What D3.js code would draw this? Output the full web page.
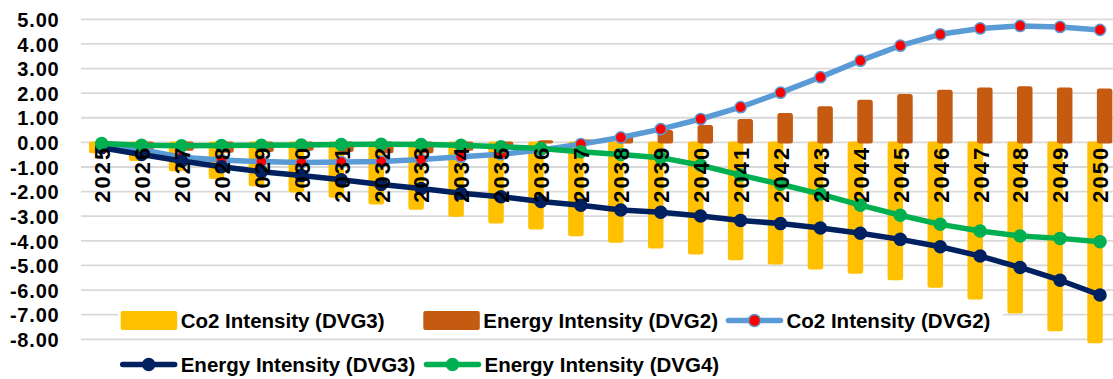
<!DOCTYPE html>
<html>
<head>
<meta charset="utf-8">
<script src="https://cdn.jsdelivr.net/npm/d3@7"></script>
<style>
  html, body { margin: 0; padding: 0; background: #fff; }
  svg { display: block; font-family: "Liberation Sans", Arial, sans-serif; font-weight: bold; }
</style>
</head>
<body>
<svg id="chart" width="1113" height="379"></svg>
<script>
// Years on the category axis
const years = ["2025","2026","2027","2028","2029","2030","2031","2032","2033","2034",
  "2035","2036","2037","2038","2039","2040","2041","2042","2043","2044",
  "2045","2046","2047","2048","2049","2050"];

// Co2 Intensity (DVG3) – bars
const co2DVG3 = [-0.40,-0.72,-1.13,-1.45,-1.74,-2.00,-2.21,-2.48,-2.70,-2.98,
  -3.25,-3.50,-3.77,-4.04,-4.27,-4.51,-4.75,-4.92,-5.12,-5.30,
  -5.56,-5.87,-6.34,-6.91,-7.63,-8.12];

// Energy Intensity (DVG2) – bars
const energyDVG2 = [-0.05,-0.25,-0.30,-0.38,-0.35,-0.30,-0.35,-0.40,-0.40,-0.30,
  -0.10,0.05,0.08,0.25,0.46,0.67,0.91,1.15,1.43,1.69,
  1.92,2.10,2.19,2.24,2.19,2.15];

// Co2 Intensity (DVG2) – line
const co2DVG2 = [-0.05,-0.30,-0.60,-0.72,-0.78,-0.82,-0.80,-0.78,-0.70,-0.58,
  -0.48,-0.31,-0.07,0.20,0.54,0.95,1.43,2.02,2.65,3.32,
  3.93,4.39,4.63,4.73,4.69,4.57];

// Energy Intensity (DVG3) – line
const energyDVG3 = [-0.22,-0.49,-0.76,-0.99,-1.19,-1.35,-1.52,-1.71,-1.87,-2.07,
  -2.21,-2.40,-2.55,-2.75,-2.84,-2.99,-3.17,-3.30,-3.48,-3.69,
  -3.94,-4.24,-4.62,-5.08,-5.60,-6.20];

// Energy Intensity (DVG4) – line
const energyDVG4 = [-0.05,-0.12,-0.14,-0.13,-0.12,-0.11,-0.09,-0.08,-0.09,-0.12,
  -0.18,-0.25,-0.38,-0.49,-0.62,-0.93,-1.33,-1.70,-2.10,-2.55,
  -2.96,-3.33,-3.60,-3.80,-3.90,-4.04];

// Value-axis ticks
const yTicks = [5,4,3,2,1,0,-1,-2,-3,-4,-5,-6,-7,-8];

const svg = d3.select("#chart");

const x = d3.scaleBand().domain(years).range([81.7, 1120]).padding(0);
const y = d3.scaleLinear().domain([-8, 5]).range([339.3, 19.3]);
const y0 = y(0);

// Horizontal gridlines
svg.append("g")
  .selectAll("line")
  .data(yTicks)
  .join("line")
  .attr("x1", 81).attr("x2", 1113)
  .attr("y1", d => y(d)).attr("y2", d => y(d))
  .attr("stroke", "#D9D9D9")
  .attr("stroke-width", 1.8);

// Value axis labels
const yAxis = svg.append("g")
  .attr("transform", "translate(59.5,0)")
  .call(d3.axisLeft(y).tickValues(yTicks).tickSize(0).tickPadding(0)
    .tickFormat(d => d.toFixed(2)));
yAxis.select(".domain").remove();
yAxis.selectAll("text")
  .attr("fill", "#000")
  .attr("font-size", 20)
  .attr("font-family", "Liberation Sans, Arial, sans-serif")
  .attr("font-weight", "bold")
  .attr("letter-spacing", "0.8px")
  .attr("dy", "0.36em");

// Bars
const barW = 13.5;
const bars = [
  { values: co2DVG3, color: "#FFC000", offset: -5 },
  { values: energyDVG2, color: "#C55A11", offset: 4.6 }
];
bars.forEach(s => {
  svg.append("g")
    .selectAll("rect")
    .data(years.map((yr, i) => ({ yr, v: s.values[i] })))
    .join("rect")
    .attr("x", d => x(d.yr) + x.bandwidth() / 2 + s.offset - barW / 2)
    .attr("width", barW)
    .attr("y", d => Math.min(y(d.v), y0))
    .attr("height", d => Math.abs(y(d.v) - y0))
    .attr("fill", s.color)
    .attr("stroke", s.color)
    .attr("stroke-width", 2)
    .attr("stroke-linejoin", "round")
    .attr("rx", 1.5);
});

// Lines
const lines = [
  { values: co2DVG2, color: "#5B9BD5", width: 5.5, marker: "#FF0000", markerStroke: "#5B9BD5", r: 5.6 },
  { values: energyDVG3, color: "#002060", width: 5.5, marker: "#002060", markerStroke: "#002060", r: 6 },
  { values: energyDVG4, color: "#00B050", width: 5.5, marker: "#00B050", markerStroke: "#00B050", r: 6 }
];
const cx = yr => x(yr) + x.bandwidth() / 2;
lines.forEach(s => {
  const pts = years.map((yr, i) => ({ yr, v: s.values[i] }));
  svg.append("path")
    .datum(pts)
    .attr("fill", "none")
    .attr("stroke", s.color)
    .attr("stroke-width", s.width)
    .attr("stroke-linejoin", "round")
    .attr("stroke-linecap", "round")
    .attr("d", d3.line().x(d => cx(d.yr)).y(d => y(d.v)));
  svg.append("g")
    .selectAll("circle")
    .data(pts)
    .join("circle")
    .attr("cx", d => cx(d.yr))
    .attr("cy", d => y(d.v))
    .attr("r", s.r)
    .attr("fill", s.marker)
    .attr("stroke", s.markerStroke)
    .attr("stroke-width", 1.5);
});

// Category axis labels, rotated and hanging just below zero
const xAxis = svg.append("g")
  .attr("transform", `translate(0,${y0})`)
  .call(d3.axisBottom(x).tickSize(0));
xAxis.select(".domain").remove();
const xls = 2;
xAxis.selectAll("text")
  .attr("fill", "#000")
  .attr("font-size", 22)
  .attr("font-family", "Liberation Sans, Arial, sans-serif")
  .attr("font-weight", "bold")
  .attr("letter-spacing", xls + "px")
  .attr("text-anchor", "end")
  .attr("transform", "rotate(-90)")
  .attr("x", -(147.8 - y0) + xls)
  .attr("y", 8.3)
  .attr("dy", 0);

// Legend
const legendG = svg.append("g");
legendG.append("rect")
  .attr("x", 118).attr("y", 306).attr("width", 885).attr("height", 27)
  .attr("fill", "#fff");

const legendItems = [
  { name: "Co2 Intensity (DVG3)", type: "bar", color: "#FFC000", lx: 120.7, ly: 320.5 },
  { name: "Energy Intensity (DVG2)", type: "bar", color: "#C55A11", lx: 423.3, ly: 320.5 },
  { name: "Co2 Intensity (DVG2)", type: "line", color: "#5B9BD5", marker: "#FF0000", lx: 726.5, ly: 320.5 },
  { name: "Energy Intensity (DVG3)", type: "line", color: "#002060", marker: "#002060", lx: 120.7, ly: 364.5 },
  { name: "Energy Intensity (DVG4)", type: "line", color: "#00B050", marker: "#00B050", lx: 424.5, ly: 364.5 }
];
legendItems.forEach(it => {
  const g = legendG.append("g");
  if (it.type === "bar") {
    g.append("rect")
      .attr("x", it.lx).attr("y", it.ly - 9.5)
      .attr("width", 56.5).attr("height", 19)
      .attr("rx", 2)
      .attr("fill", it.color);
  } else {
    g.append("line")
      .attr("x1", it.lx + 2).attr("x2", it.lx + 54)
      .attr("y1", it.ly).attr("y2", it.ly)
      .attr("stroke", it.color)
      .attr("stroke-width", 5.5)
      .attr("stroke-linecap", "round");
    g.append("circle")
      .attr("cx", it.lx + 28).attr("cy", it.ly)
      .attr("r", 6)
      .attr("fill", it.marker)
      .attr("stroke", it.color)
      .attr("stroke-width", 1.5);
  }
  g.append("text")
    .attr("x", it.lx + 60)
    .attr("y", it.ly + 7.5)
    .attr("font-size", 20.5)
    .attr("fill", "#000")
    .text(it.name);
});
</script>
</body>
</html>
